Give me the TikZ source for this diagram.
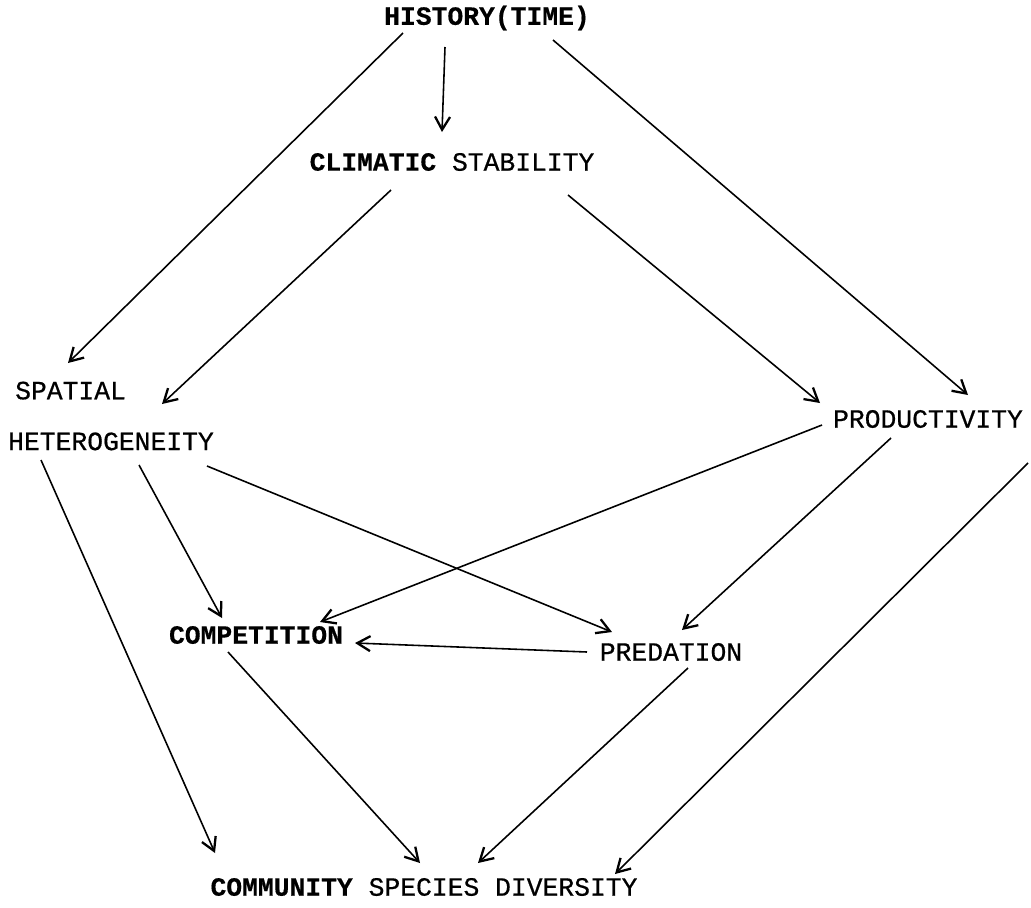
\documentclass[tikz,border=0pt]{standalone}
\usepackage{fontspec}
\newfontfamily\typew{Liberation Mono}[FakeBold=0.6, BoldFeatures={FakeBold=0.4}]
\usetikzlibrary{calc}
\usetikzlibrary{arrows.meta}

\begin{document}
\begin{tikzpicture}[x=0.02cm, y=-0.02cm,
  lbl/.style={font=\typew\fontsize{15}{18}\selectfont, inner sep=0pt},
  arr/.style={-{Straight Barb[length=2.6mm,width=3mm,line width=1.3pt]}, line width=0.9pt}]
\useasboundingbox (0,0) rectangle (1031,907);

\node[lbl] (hist) at (487,18) {\textbf{HISTORY(TIME)}};
\node[lbl] (clim) at (452,162) {\textbf{CLIMATIC} STABILITY};
\node[lbl, align=left] (spat) at (111,416) {\hspace*{0.14cm}SPATIAL\\[10.9pt]HETEROGENEITY};
\node[lbl] (prod) at (928,419) {PRODUCTIVITY};
\node[lbl] (comp) at (256,635) {\textbf{COMPETITION}};
\node[lbl] (pred) at (671,652) {PREDATION};
\node[lbl] (div) at (424,887) {\textbf{COMMUNITY} SPECIES DIVERSITY};

\draw[arr] ($(hist)+(-84,15)$) -- ($(spat)+(-43,-53)$);
\draw[arr] ($(hist)+(-42,29)$) -- ($(clim)+(-10,-30)$);
\draw[arr] ($(hist)+(66,22)$) -- ($(prod)+(40,-24)$);

\draw[arr] ($(clim)+(-61,28)$) -- ($(spat)+(51,-12)$);
\draw[arr] ($(clim)+(116,33)$) -- ($(prod)+(-108,-16)$);

\draw[arr] ($(spat)+(-70,44)$) -- ($(div)+(-209,-34)$);
\draw[arr] ($(spat)+(28,49)$) -- ($(comp)+(-34,-17)$);
\draw[arr] ($(spat)+(96,50)$) -- ($(pred)+(-59,-20)$);

\draw[arr] ($(prod)+(-106,6)$) -- ($(comp)+(64,-13)$);
\draw[arr] ($(prod)+(-37,19)$) -- ($(pred)+(11,-22)$);
\draw[arr] ($(prod)+(100,44)$) -- ($(div)+(191,-13)$);

\draw[arr] ($(pred)+(-84,0)$) -- ($(comp)+(99,8)$);

\draw[arr] ($(comp)+(-28,17)$) -- ($(div)+(-4,-24)$);
\draw[arr] ($(pred)+(17,16)$) -- ($(div)+(54,-24)$);
\end{tikzpicture}
\end{document}
